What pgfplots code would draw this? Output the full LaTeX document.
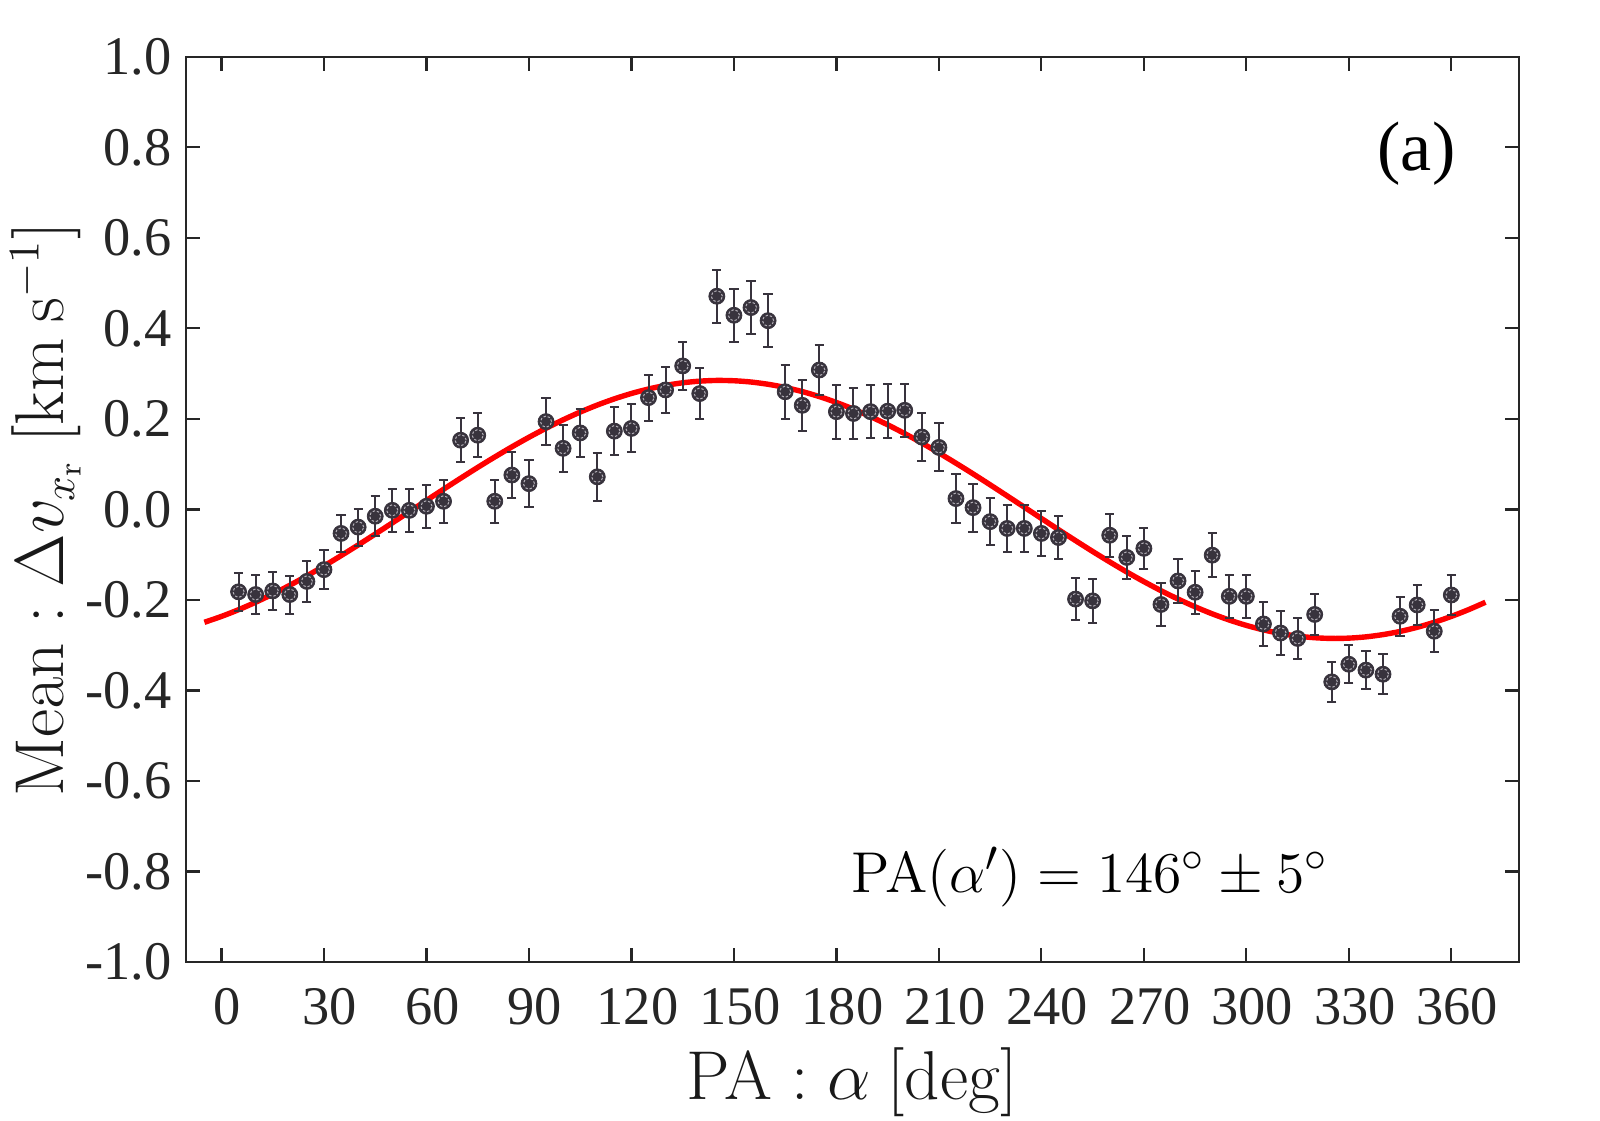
\documentclass[border=0pt]{standalone}
\usepackage[no-math]{fontspec}
\setmainfont{Liberation Serif}
\usepackage{pgfplots}
\usepackage{pgfplotstable}
\pgfplotsset{compat=1.18}
\definecolor{axgray}{HTML}{262626}
\definecolor{mk}{HTML}{38333D}
\definecolor{ring}{HTML}{B4B0B8}

\pgfplotstableread{
x y e
5 -0.182 0.042
10 -0.188 0.044
15 -0.180 0.042
20 -0.188 0.042
25 -0.159 0.045
30 -0.133 0.043
35 -0.053 0.040
40 -0.039 0.041
45 -0.015 0.044
50 -0.002 0.047
55 -0.002 0.047
60 0.007 0.047
65 0.018 0.047
70 0.153 0.049
75 0.164 0.048
80 0.018 0.047
85 0.076 0.051
90 0.057 0.052
95 0.194 0.052
100 0.135 0.052
105 0.169 0.053
110 0.072 0.053
115 0.173 0.053
120 0.179 0.053
125 0.247 0.051
130 0.264 0.051
135 0.317 0.054
140 0.256 0.056
145 0.471 0.059
150 0.429 0.059
155 0.446 0.059
160 0.417 0.059
165 0.260 0.060
170 0.230 0.056
175 0.308 0.055
180 0.216 0.060
185 0.212 0.057
190 0.216 0.059
195 0.217 0.060
200 0.219 0.059
205 0.160 0.054
210 0.137 0.053
215 0.024 0.054
220 0.004 0.053
225 -0.027 0.052
230 -0.042 0.051
235 -0.042 0.051
240 -0.053 0.049
245 -0.062 0.047
250 -0.198 0.047
255 -0.202 0.048
260 -0.057 0.048
265 -0.106 0.048
270 -0.086 0.045
275 -0.210 0.048
280 -0.158 0.048
285 -0.183 0.047
290 -0.101 0.048
295 -0.192 0.047
300 -0.192 0.047
305 -0.253 0.048
310 -0.273 0.048
315 -0.285 0.046
320 -0.232 0.045
325 -0.381 0.045
330 -0.342 0.042
335 -0.355 0.042
340 -0.364 0.044
345 -0.236 0.043
350 -0.211 0.045
355 -0.269 0.046
360 -0.189 0.044
}\meandata

\pgfplotstableread{
x y
-5 -0.2493
0 -0.2363
5 -0.2215
10 -0.2050
15 -0.1870
20 -0.1675
25 -0.1468
30 -0.1249
35 -0.1021
40 -0.0786
45 -0.0544
50 -0.0298
55 -0.0050
60 0.0199
65 0.0446
70 0.0689
75 0.0928
80 0.1159
85 0.1382
90 0.1594
95 0.1794
100 0.1980
105 0.2151
110 0.2306
115 0.2443
120 0.2562
125 0.2661
130 0.2740
135 0.2798
140 0.2834
145 0.2850
150 0.2843
155 0.2815
160 0.2765
165 0.2695
170 0.2604
175 0.2493
180 0.2363
185 0.2215
190 0.2050
195 0.1870
200 0.1675
205 0.1468
210 0.1249
215 0.1021
220 0.0786
225 0.0544
230 0.0298
235 0.0050
240 -0.0199
245 -0.0446
250 -0.0689
255 -0.0928
260 -0.1159
265 -0.1382
270 -0.1594
275 -0.1794
280 -0.1980
285 -0.2151
290 -0.2306
295 -0.2443
300 -0.2562
305 -0.2661
310 -0.2740
315 -0.2798
320 -0.2834
325 -0.2850
330 -0.2843
335 -0.2815
340 -0.2765
345 -0.2695
350 -0.2604
355 -0.2493
360 -0.2363
365 -0.2215
370 -0.2050
}\fitdata

\begin{document}
\begin{tikzpicture}
\begin{axis}[
  name=ax,
  scale only axis,
  width=333.3pt, height=226.3pt,
  xmin=-10.5, xmax=379.8,
  ymin=-1, ymax=1,
  xtick={0,30,...,360},
  ytick={-1,-0.8,...,1.01},
  yticklabels={-1.0,-0.8,-0.6,-0.4,-0.2,0.0,0.2,0.4,0.6,0.8,1.0},
  /pgf/number format/assume math mode=true,
  tick align=inside,
  xtick pos=both, ytick pos=both,
  major tick length=3.5pt,
  axis line style={color=axgray, line width=0.55pt},
  every tick/.style={color=axgray, line width=0.55pt},
  tick label style={font=\fontsize{13.6}{16}\selectfont, color=axgray},
  xticklabel style={yshift=-3pt, xshift=1.5pt},
  xlabel={$\mathrm{PA}:\alpha\ [\mathrm{deg}]$},
  ylabel={$\mathrm{Mean}:\Delta v_{x_\mathrm{r}}\ [\mathrm{km\ s^{-1}}]$},
  label style={font=\fontsize{16.2}{18}\selectfont, color=black!90},
  xlabel style={at={(axis description cs:0.5,-0.1326)}, anchor=center},
  ylabel style={at={(axis description cs:-0.105,0.5)}, anchor=center},
  clip=false,
]
\addplot[red, line width=1.35pt, smooth] table[x=x,y=y] {\fitdata};
\addplot[only marks, mark=*, mark size=2.0pt,
  mark options={fill=mk, draw=mk, line width=0.2pt},
  error bars/.cd, y dir=both, y explicit,
  error bar style={color=mk, line width=0.5pt},
  error mark=|,
  error mark options={color=mk, line width=0.5pt, mark size=1.15pt}]
  table[x=x,y=y,y error=e] {\meandata};
\addplot[only marks, mark=o, mark size=1.4pt,
  mark options={draw=ring, line width=0.25pt, dash pattern=on 0.6pt off 0.5pt}]
  table[x=x,y=y] {\meandata};
\node[font=\fontsize{17.5}{19}\selectfont, color=black] at (axis cs:349.8,0.787) {(a)};
\node[font=\fontsize{15.4}{17}\selectfont, color=black] at (axis cs:254.2,-0.812) {$\mathrm{PA}(\alpha')=146^\circ\pm5^\circ$};
\end{axis}
\pgfresetboundingbox
\path ([xshift=-46.4pt,yshift=-39.5pt]ax.south west) rectangle ([xshift=20.25pt,yshift=14.2pt]ax.north east);
\end{tikzpicture}
\end{document}
